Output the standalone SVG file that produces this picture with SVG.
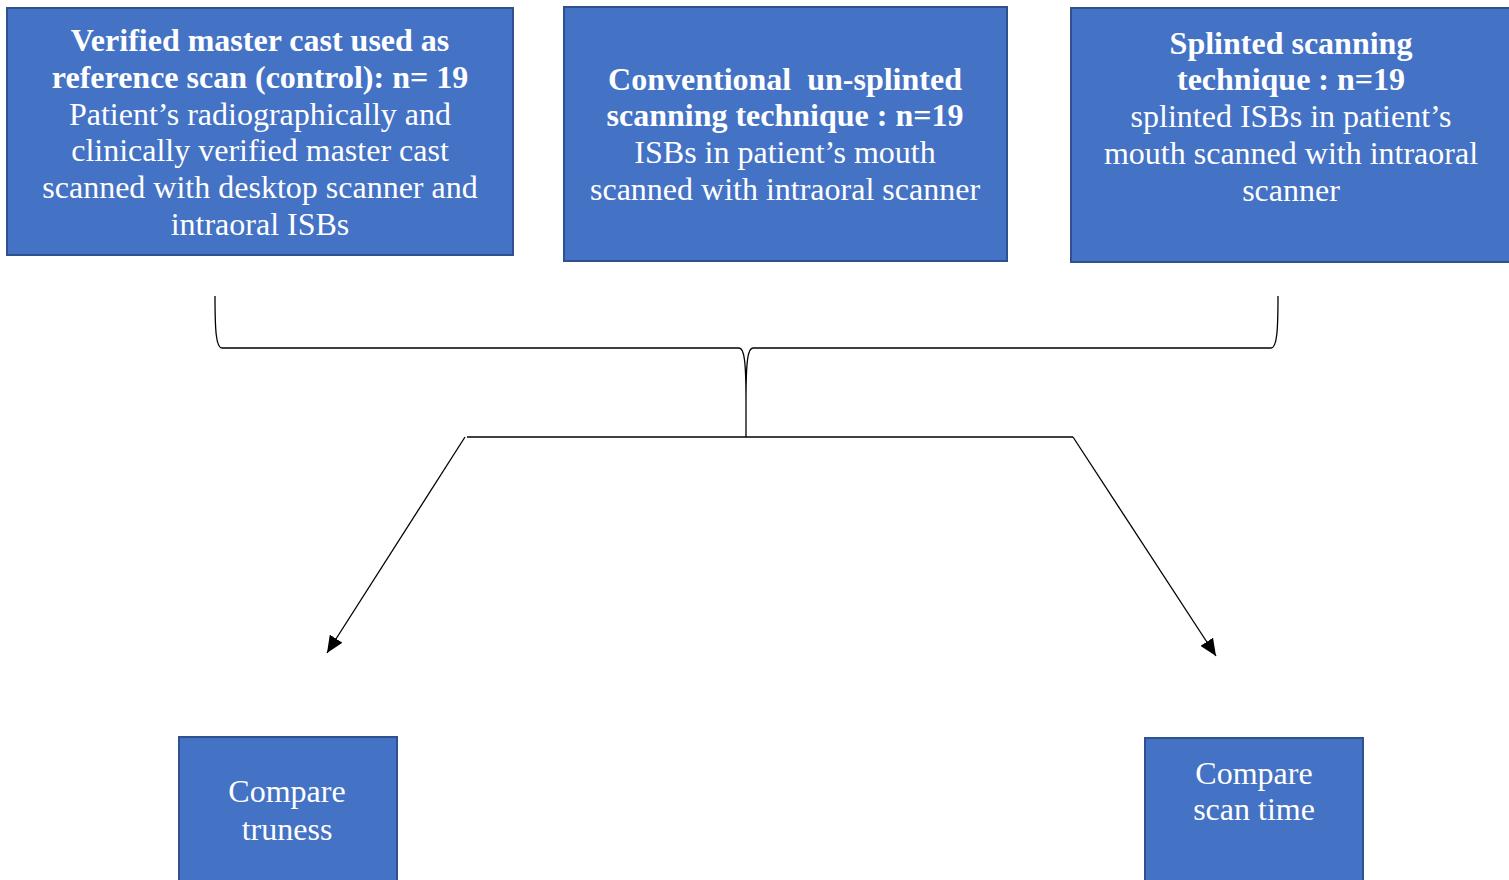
<svg xmlns="http://www.w3.org/2000/svg" width="1509" height="880" viewBox="0 0 1509 880">
<style>
.box{fill:#4472C4;stroke:#2F528F;stroke-width:2}
.t{font-family:"Liberation Serif","Times New Roman",serif;font-size:32px;fill:#ffffff;text-anchor:middle}
.b{font-weight:bold}
.c{fill:none;stroke:#000;stroke-width:1.3}
</style>
<defs>
<marker id="ah" viewBox="0 0 10 10" refX="10" refY="5" markerWidth="17" markerHeight="15" markerUnits="userSpaceOnUse" orient="auto" preserveAspectRatio="none">
<path d="M0,0 L10,5 L0,10 z" fill="#000"/>
</marker>
</defs>
<rect width="1509" height="880" fill="#fff"/>
<g id="node-control">
<rect class="box" x="7" y="8" width="506" height="247"/>
<text class="t" x="260" y="51"><tspan class="b">Verified master cast used as</tspan><tspan class="b" x="260" dy="37">reference scan (control): n= 19</tspan><tspan x="260" dy="37">Patient’s radiographically and</tspan><tspan x="260" dy="36">clinically verified master cast</tspan><tspan x="260" dy="37">scanned with desktop scanner and</tspan><tspan x="260" dy="37">intraoral ISBs</tspan></text>
</g>
<g id="node-conventional">
<rect class="box" x="564" y="7" width="443" height="254"/>
<text class="t" x="785" y="90" xml:space="preserve" style="white-space:pre"><tspan class="b">Conventional  un-splinted</tspan><tspan class="b" x="785" dy="36">scanning technique : n=19</tspan><tspan x="785" dy="37">ISBs in patient’s mouth</tspan><tspan x="785" dy="37">scanned with intraoral scanner</tspan></text>
</g>
<g id="node-splinted">
<rect class="box" x="1071" y="8" width="445" height="254"/>
<text class="t" x="1291" y="54"><tspan class="b">Splinted scanning</tspan><tspan class="b" x="1291" dy="36">technique : n=19</tspan><tspan x="1291" dy="37">splinted ISBs in patient’s</tspan><tspan x="1291" dy="37">mouth scanned with intraoral</tspan><tspan x="1291" dy="37">scanner</tspan></text>
</g>
<g id="node-trueness">
<rect class="box" x="179" y="737" width="218" height="150"/>
<text class="t" x="287" y="802"><tspan>Compare</tspan><tspan x="287" dy="38">truness</tspan></text>
</g>
<g id="node-scantime">
<rect class="box" x="1145" y="738" width="218" height="150"/>
<text class="t" x="1254" y="784"><tspan>Compare</tspan><tspan x="1254" dy="36">scan time</tspan></text>
</g>
<g id="connectors">
<path class="c" d="M215,296 C215,330 216,348 222,348 L739,348 C744,348 746,360 746,400 C746,360 748,348 753,348 L1271,348 C1277,348 1278,330 1278,296"/>
<path class="c" d="M746,400 L746,437"/>
<path class="c" d="M467,437 L1073,437"/>
<path class="c" d="M465,437 L327,653" marker-end="url(#ah)"/>
<path class="c" d="M1073,437 L1216,656" marker-end="url(#ah)"/>
</g>
</svg>
